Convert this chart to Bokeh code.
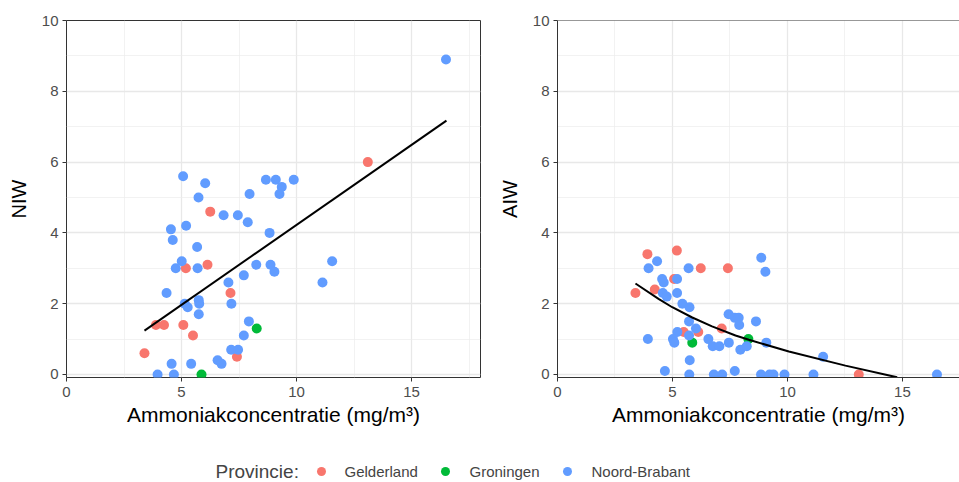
from bokeh.plotting import figure
from bokeh.models import Range1d, FixedTicker, ColumnDataSource, Label, Span
from bokeh.layouts import column, row
from bokeh.transform import factor_cmap
from bokeh.embed import file_html
from bokeh.resources import INLINE

# --- data -----------------------------------------------------------------
provinces = ["Gelderland", "Groningen", "Noord-Brabant"]
prov_colors = ["#F8766D", "#00BA38", "#619CFF"]

# NIW against ammonia concentration
niw_conc = [3.39, 3.89, 4.24, 5.08, 5.50, 5.19, 6.13, 6.25, 7.13, 7.41, 13.10,
            5.87, 8.27,
            5.07, 6.03, 5.74, 8.67, 9.10, 9.36, 9.88, 9.26, 7.96, 6.83, 7.45, 7.88,
            4.54, 5.20, 4.62, 8.83, 5.68, 5.01, 4.75, 5.70, 8.25, 8.87, 9.04, 7.71,
            7.04, 4.35, 5.14, 5.27, 5.75, 5.77, 5.75, 7.17, 7.93, 7.71, 7.16, 7.46,
            6.57, 6.74, 4.57, 5.42, 3.96, 4.67, 11.55, 11.13, 16.50]
niw = [0.6, 1.4, 1.4, 1.4, 1.1, 3.0, 3.1, 4.6, 2.3, 0.5, 6.0,
       0.0, 1.3,
       5.6, 5.4, 5.0, 5.5, 5.5, 5.3, 5.5, 5.1, 5.1, 4.5, 4.5, 4.3,
       4.1, 4.2, 3.8, 4.0, 3.6, 3.2, 3.0, 3.0, 3.1, 3.1, 2.9, 2.8,
       2.6, 2.3, 2.0, 1.9, 2.1, 2.0, 1.7, 2.0, 1.5, 1.1, 0.7, 0.7,
       0.4, 0.3, 0.3, 0.3, 0.0, 0.0, 3.2, 2.6, 8.9]
niw_prov = ["Gelderland"] * 11 + ["Groningen"] * 2 + ["Noord-Brabant"] * 45

# AIW against ammonia concentration
aiw_conc = [3.39, 3.91, 4.23, 5.07, 5.19, 6.23, 7.41, 5.49, 6.12, 7.14, 13.10,
            5.86, 8.30,
            3.96, 4.33, 5.70, 4.55, 4.62, 5.20, 4.58, 4.75, 5.20, 5.43, 5.74, 5.72,
            6.02, 5.21, 5.72, 3.93, 5.02, 5.08, 6.56, 6.75, 7.04, 7.45, 7.44, 7.71,
            7.88, 7.90, 8.63, 7.95, 8.23, 9.08, 8.86, 9.04, 5.75, 4.67, 5.73, 6.80,
            7.16, 7.71, 8.85, 9.22, 9.39, 9.87, 11.13, 11.55, 16.50]
aiw = [2.3, 3.4, 2.4, 2.7, 3.5, 3.0, 3.0, 1.2, 1.2, 1.3, 0.0,
       0.9, 1.0,
       3.0, 3.2, 3.0, 2.7, 2.6, 2.7, 2.3, 2.2, 2.3, 2.0, 1.9, 1.5,
       1.3, 1.2, 1.1, 1.0, 1.0, 0.9, 1.0, 0.8, 0.8, 0.9, 1.7, 1.6,
       1.6, 1.4, 1.5, 0.7, 0.8, 0.9, 3.3, 2.9, 0.4, 0.1, 0.0, 0.0,
       0.0, 0.1, 0.0, 0.0, 0.0, 0.0, 0.0, 0.5, 0.0]
aiw_prov = ["Gelderland"] * 11 + ["Groningen"] * 2 + ["Noord-Brabant"] * 45

# fitted trend lines
niw_fit_x = [3.39, 16.52]
niw_fit_y = [1.24, 7.17]
aiw_fit_x = [3.39, 4.41, 4.99, 5.86, 6.72, 7.74, 8.32, 10.06, 12.52, 14.77]
aiw_fit_y = [2.57, 2.13, 1.90, 1.61, 1.36, 1.10, 0.98, 0.65, 0.25, -0.08]

x_ticks = [0, 5, 10, 15]
x_minor = [2.5, 7.5, 12.5, 17.5]
y_ticks = [0, 2, 4, 6, 8, 10]
y_minor = [1, 3, 5, 7, 9]

FONT = "Liberation Sans"
x_title = "Ammoniakconcentratie (mg/m³)"


def panel(conc, vals, prov, fit_x, fit_y, ylabel, frame_w, x_end, border_right, outline):
    p = figure(frame_width=frame_w, frame_height=357,
               x_range=Range1d(0, x_end), y_range=Range1d(-0.085, 10),
               output_backend="svg", toolbar_location=None,
               min_border_left=66, min_border_right=border_right,
               min_border_top=20, min_border_bottom=60,
               background_fill_color="white", border_fill_color="white")
    p.xaxis.ticker = FixedTicker(ticks=x_ticks, minor_ticks=x_minor)
    p.yaxis.ticker = FixedTicker(ticks=y_ticks, minor_ticks=y_minor)
    p.grid.grid_line_color = "#E8E8E8"
    p.grid.grid_line_width = 1.3
    p.grid.minor_grid_line_color = "#EDEDED"
    p.grid.minor_grid_line_width = 0.7

    for ax in (p.xaxis[0], p.yaxis[0]):
        ax.major_tick_out = 4
        ax.major_tick_in = 0
        ax.minor_tick_out = 0
        ax.minor_tick_in = 0
        ax.major_tick_line_color = "#333333"
        ax.major_label_text_font = FONT
        ax.major_label_text_font_size = "15px"
        ax.major_label_text_color = "#4D4D4D"
        ax.axis_label_text_font = FONT
        ax.axis_label_text_font_style = "normal"
        ax.axis_label_text_color = "black"
        ax.axis_line_color = None if outline else "#333333"
    p.xaxis.axis_label = x_title
    p.xaxis.axis_label_text_font_size = "21px"
    p.xaxis.major_label_standoff = 5
    p.xaxis.axis_label_standoff = 3
    p.yaxis.axis_label = ylabel
    p.yaxis.axis_label_text_font_size = "20px"
    p.yaxis.major_label_standoff = 4
    p.yaxis.axis_label_standoff = 9

    if outline:
        p.outline_line_color = "#333333"
        p.outline_line_width = 1
    else:
        p.outline_line_color = None
        p.add_layout(Span(location=10, dimension="width",
                          line_color="#333333", line_width=1))

    src = ColumnDataSource(dict(x=conc, y=vals, prov=prov))
    p.scatter("x", "y", source=src, size=10, line_color=None,
              fill_color=factor_cmap("prov", prov_colors, provinces))
    p.line(fit_x, fit_y, line_color="black", line_width=2)
    return p


p1 = panel(niw_conc, niw, niw_prov, niw_fit_x, niw_fit_y, "NIW", 414, 18, 11, True)
p2 = panel(aiw_conc, aiw, aiw_prov, aiw_fit_x, aiw_fit_y, "AIW", 402, 17.48, 0, False)

# legend strip underneath both panels
leg = figure(width=959, height=45, x_range=Range1d(0, 959), y_range=Range1d(0, 45),
             output_backend="svg", toolbar_location=None, min_border=0,
             background_fill_color="white", border_fill_color="white")
leg.axis.visible = False
leg.grid.visible = False
leg.outline_line_color = None
row_y = 11
leg.add_layout(Label(x=215, y=row_y, text="Provincie:", text_font=FONT,
                     text_font_size="19px", text_baseline="middle"))
key_x = [321, 445, 567]
label_x = [344, 469, 591]
leg.scatter(key_x, [row_y] * 3, size=9, line_color=None, fill_color=prov_colors)
for lx, name in zip(label_x, provinces):
    leg.add_layout(Label(x=lx, y=row_y, text=name, text_font=FONT,
                         text_font_size="15px", text_baseline="middle"))

layout = column(row(p1, p2, spacing=0), leg, spacing=0)
open("out.html", "w").write(file_html(layout, INLINE))
